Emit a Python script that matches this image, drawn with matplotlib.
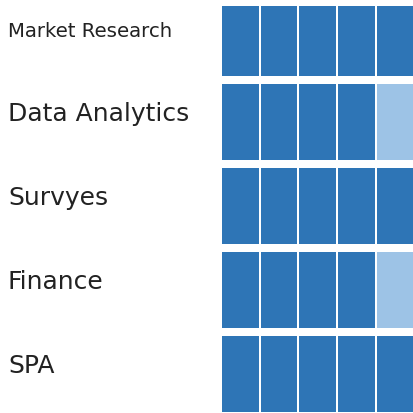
"""Skill rating grid: five blocks per skill, filled blocks show the level."""

import matplotlib
matplotlib.use('Agg')
import matplotlib.pyplot as plt
from matplotlib.patches import Rectangle
from matplotlib.transforms import blended_transform_factory

skills = ['Market Research', 'Data Analytics', 'Survyes', 'Finance', 'SPA']
ratings = [5, 4, 5, 4, 5]
max_rating = 5
label_sizes = [14.2, 18, 18, 18, 18]

FILLED = '#2E75B6'
EMPTY = '#9DC3E6'

fig = plt.figure(figsize=(4.14, 4.13), dpi=100)
ax = fig.add_axes([222 / 414, 0, 192 / 414, 407.4 / 413])

cell_w = 0.948
cell_h = 76 / 84
for i, rating in enumerate(ratings):
    for j in range(max_rating):
        color = FILLED if j < rating else EMPTY
        ax.add_patch(Rectangle((j, i), cell_w, cell_h, color=color, linewidth=0))

ax.set_xlim(0, 4.96)
ax.set_ylim(4.92, 0.07)
ax.axis('off')

trans = blended_transform_factory(fig.transFigure, ax.transData)
for i, (name, size) in enumerate(zip(skills, label_sizes)):
    ax.text(8 / 414, i + 0.44, name, transform=trans, fontsize=size,
            color='#222222', va='baseline', ha='left',
            family='DejaVu Sans', clip_on=False)

fig.savefig('out.png', dpi=100, facecolor='white')
